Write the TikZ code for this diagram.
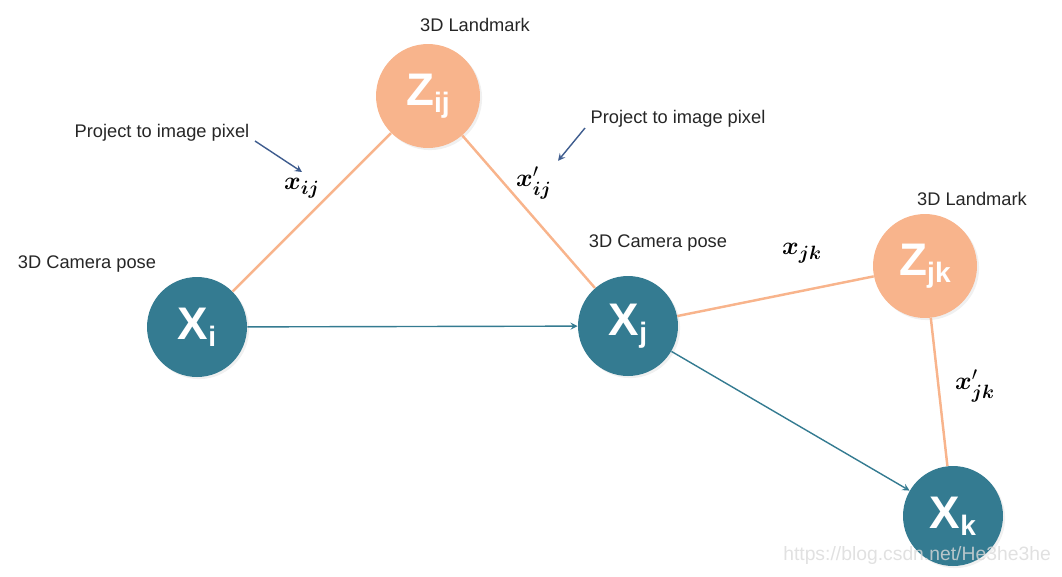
\documentclass[tikz,border=0pt]{standalone}
\usepackage{amsmath}
\usepackage{amssymb}
\usepackage{fontspec}
\setmainfont{Liberation Sans}
\usetikzlibrary{arrows, shadows}
\definecolor{poseblue}{RGB}{52,123,145}
\definecolor{landorange}{RGB}{248,180,140}
\definecolor{notearrow}{RGB}{62,92,142}
\tikzstyle{pose} = [circle, minimum size=2cm, inner sep=0pt, fill=poseblue, text=white, drop shadow={opacity=0.12, shadow xshift=1.2pt, shadow yshift=-1.2pt}]
\tikzstyle{landmark} = [circle, minimum size=2.08cm, inner sep=0pt, fill=landorange, text=white, drop shadow={opacity=0.12, shadow xshift=1.2pt, shadow yshift=-1.2pt}]
\tikzstyle{note} = [font=\fontsize{10.4}{12}\selectfont, text=black!85]
\tikzstyle{obs} = [font=\fontsize{15}{15}\selectfont]
\tikzstyle{proj} = [line width=1.4pt, draw=landorange]
\tikzstyle{arrow} = [line width=0.8pt, ->, >=stealth, draw=poseblue]
\tikzstyle{pointer} = [line width=0.8pt, ->, >=stealth, draw=notearrow]
\newcommand{\circlbl}[2]{\bfseries\fontsize{26}{26}\selectfont #1\raisebox{-4pt}{\fontsize{16}{16}\selectfont #2}}

\begin{document}
\begin{tikzpicture}[x=0.02cm, y=-0.02cm]
\useasboundingbox (0,0) rectangle (1062,576);

% poses and landmarks
\node (xi) [pose] at (197,327) {\circlbl{X}{i}};
\node (xj) [pose] at (628,326) {\circlbl{X}{j}};
\node (xk) [pose] at (953,516) {\circlbl{X}{k}};
\node (zij) [landmark] at (428,96) {\circlbl{Z}{ij}};
\node (zjk) [landmark] at (925,266) {\circlbl{Z}{jk}};

% captions
\node (capzij) [note] at (475,25) {3D Landmark};
\node (capxi) [note] at (87,264) {3D Camera pose};
\node (capxj) [note] at (658,243) {3D Camera pose};
\node (capzjk) [note] at (972,199) {3D Landmark};
\node (projl) [note] at (162,133) {Project to image pixel};
\node (projr) [note] at (678,119) {Project to image pixel};
\coordinate (taill) at (255,141);
\coordinate (tailr) at (585,128);

% pixel observations
\node (oij) [obs] at (302,188) {$\boldsymbol{x}_{\boldsymbol{ij}}$};
\node (oijp) [obs] at (534,183) {$\boldsymbol{x}'_{\boldsymbol{ij}}$};
\node (ojk) [obs] at (802,253) {$\boldsymbol{x}_{\boldsymbol{jk}}$};
\node (ojkp) [obs] at (975,386) {$\boldsymbol{x}'_{\boldsymbol{jk}}$};

\draw [proj] (xi) -- (zij);
\draw [proj] (zij) -- (xj);
\draw [proj] (xj) -- (zjk);
\draw [proj] (zjk) -- (xk);
\draw [arrow] (xi) -- (xj);
\draw [arrow] (xj) -- (xk);
\draw [pointer] (taill) -- (oij.north);
\draw [pointer] (tailr) -- (oijp.north east);

\node (mark) [anchor=east, text=white!70!gray, opacity=0.8, font=\fontsize{11}{12}\selectfont] at (1057,555) {https://blog.csdn.net/He3he3he};

\end{tikzpicture}
\end{document}
